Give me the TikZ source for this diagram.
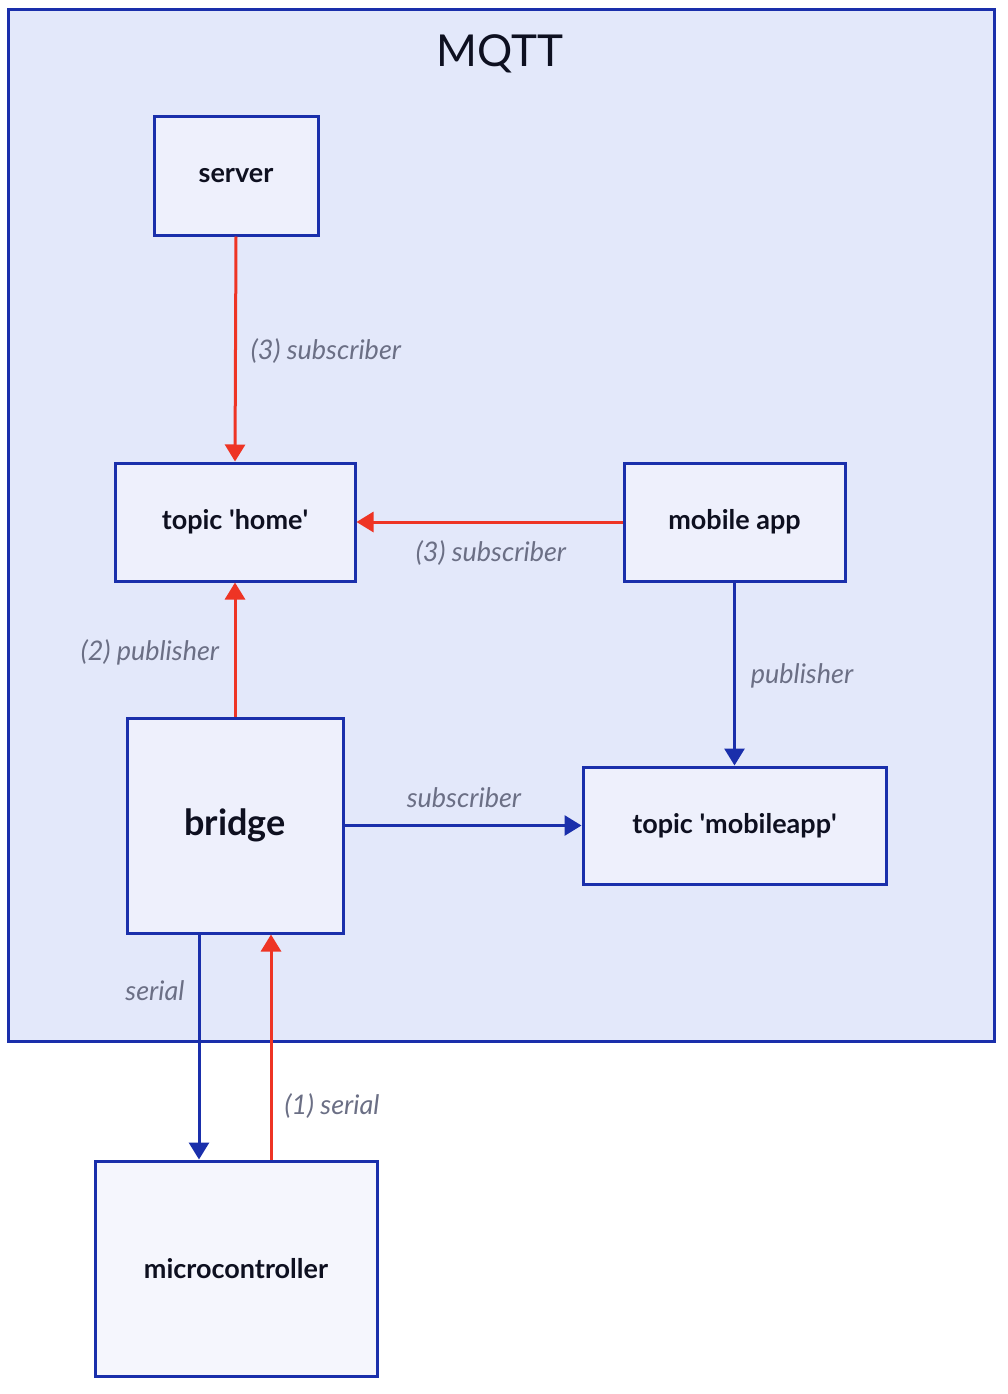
\documentclass[tikz,border=0pt]{standalone}
\usepackage{fontspec}
\setmainfont{Lato}
\usetikzlibrary{arrows.meta, positioning}

\definecolor{mqttfill}{HTML}{E3E8FA}
\definecolor{boxfill}{HTML}{EEF0FC}
\definecolor{microfill}{HTML}{F5F6FD}
\definecolor{edgeblue}{HTML}{1A2FAB}
\definecolor{edgered}{HTML}{EE3424}
\definecolor{labelgray}{HTML}{6B6F85}
\definecolor{textdark}{HTML}{0E1020}

\tikzset{
  block/.style={draw=edgeblue, line width=3pt, fill=boxfill, text=textdark,
    font=\fontsize{27}{32}\selectfont\bfseries, inner sep=0pt},
  redline/.style={draw=edgered, line width=3pt, -{Triangle[length=17pt,width=20pt]}},
  blueline/.style={draw=edgeblue, line width=3pt, -{Triangle[length=17pt,width=20pt]}},
  edgelabel/.style={text=labelgray, font=\fontsize{27}{32}\selectfont\itshape}
}

\begin{document}
\begin{tikzpicture}[x=1pt, y=-1pt]
  \useasboundingbox (0,0) rectangle (1008,1394);
  % outer MQTT frame
  \draw[draw=edgeblue, line width=3pt, fill=mqttfill] (8,10) rectangle (994,1041);
  \node[text=textdark, font=\fontsize{44}{50}\selectfont] (mqtt) at (500,54) {MQTT};

  % blocks
  \node[block, minimum width=164pt, minimum height=118pt] (server) at (236,176) {server};
  \node[block, minimum width=240pt, minimum height=118pt] (home) at (235,522) {topic \textquotesingle home\textquotesingle};
  \node[block, minimum width=221pt, minimum height=118pt] (mobile) at (734.5,522) {mobile app};
  \node[block, minimum width=216pt, minimum height=215pt,
    font=\fontsize{36}{42}\selectfont\bfseries] (bridge) at (235,825.5) {bridge};
  \node[block, minimum width=303pt, minimum height=117pt] (mobtopic) at (734.5,825.5) {topic \textquotesingle mobileapp\textquotesingle};
  \node[block, fill=microfill, minimum width=282pt, minimum height=215pt] (micro) at (236,1268.5) {microcontroller};

  % connectors
  \draw[redline] (server.south) -- (home.north);
  \draw[redline] (mobile.west) -- (home.east);
  \draw[redline] (bridge.north) -- (home.south);
  \draw[blueline] (mobile.south) -- (mobtopic.north);
  \draw[blueline] (bridge.east) -- (mobtopic.west);
  \draw[blueline] ([xshift=-36pt]bridge.south) -- ([xshift=-36pt]bridge.south |- micro.north);
  \draw[redline] ([xshift=35pt]micro.north) -- ([xshift=35pt]micro.north |- bridge.south);

  % labels
  \node[edgelabel] (l1) at (326,351) {(3) subscriber};
  \node[edgelabel] (l2) at (491,553) {(3) subscriber};
  \node[edgelabel] (l3) at (150,652) {(2) publisher};
  \node[edgelabel] (l4) at (802,676) {publisher};
  \node[edgelabel] (l5) at (464,798) {subscriber};
  \node[edgelabel] (l6) at (155,991) {serial};
  \node[edgelabel] (l7) at (332,1106) {(1) serial};
\end{tikzpicture}
\end{document}
